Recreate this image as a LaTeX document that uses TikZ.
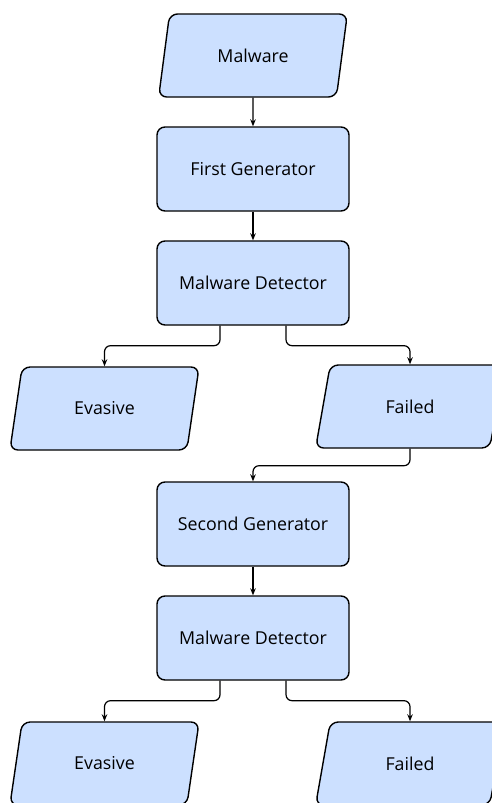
\documentclass[tikz,border=0pt]{standalone}
\usepackage{fontspec}
\setmainfont{Open Sans}
\usetikzlibrary{arrows.meta,shapes.geometric}
\definecolor{boxblue}{RGB}{204,224,255}

\tikzset{
  block/.style={shape=rectangle,draw=black,fill=boxblue,line width=1.4pt,rounded corners=8,
    minimum width=192,minimum height=84,font=\fontsize{17.8}{21}\selectfont},
  data/.style={shape=trapezium,trapezium left angle=76,trapezium right angle=104,
    trapezium stretches=true,draw=black,fill=boxblue,line width=1.4pt,rounded corners=8,
    minimum width=190,minimum height=83,font=\fontsize{17.8}{21}\selectfont},
  conn/.style={line width=1.2pt,rounded corners=6,-{Stealth[length=7,width=5.5]}}
}

\begin{document}
\begin{tikzpicture}[x=1pt,y=-1pt]
\useasboundingbox (0,0) rectangle (492,803);
\clip (0,0) rectangle (492,803);
\node[data] (1) at (253,55.5) {Malware};
\node[block] (2) at (253,169) {First Generator};
\node[block] (3) at (253,283) {Malware Detector};
\node[data] (4) at (104.5,408.5) {Evasive};
\node[data] (5) at (410,406.5) {Failed};
\node[block] (6) at (253,524) {Second Generator};
\node[block] (7) at (253,638) {Malware Detector};
\node[data] (8) at (104.5,763.5) {Evasive};
\node[data] (9) at (410,763.5) {Failed};
\draw[conn] (1) -- (2);
\draw[conn] (2) -- (3);
\draw[conn] ([xshift=-33]3.south) -- ++(0,20) -| (4.north);
\draw[conn] ([xshift=33]3.south) -- ++(0,20) -| (5.north);
\draw[conn] (5.south) -- ++(0,17) -| (6.north);
\draw[conn] (6) -- (7);
\draw[conn] ([xshift=-33]7.south) -- ++(0,20) -| (8.north);
\draw[conn] ([xshift=33]7.south) -- ++(0,20) -| (9.north);
\end{tikzpicture}
\end{document}
